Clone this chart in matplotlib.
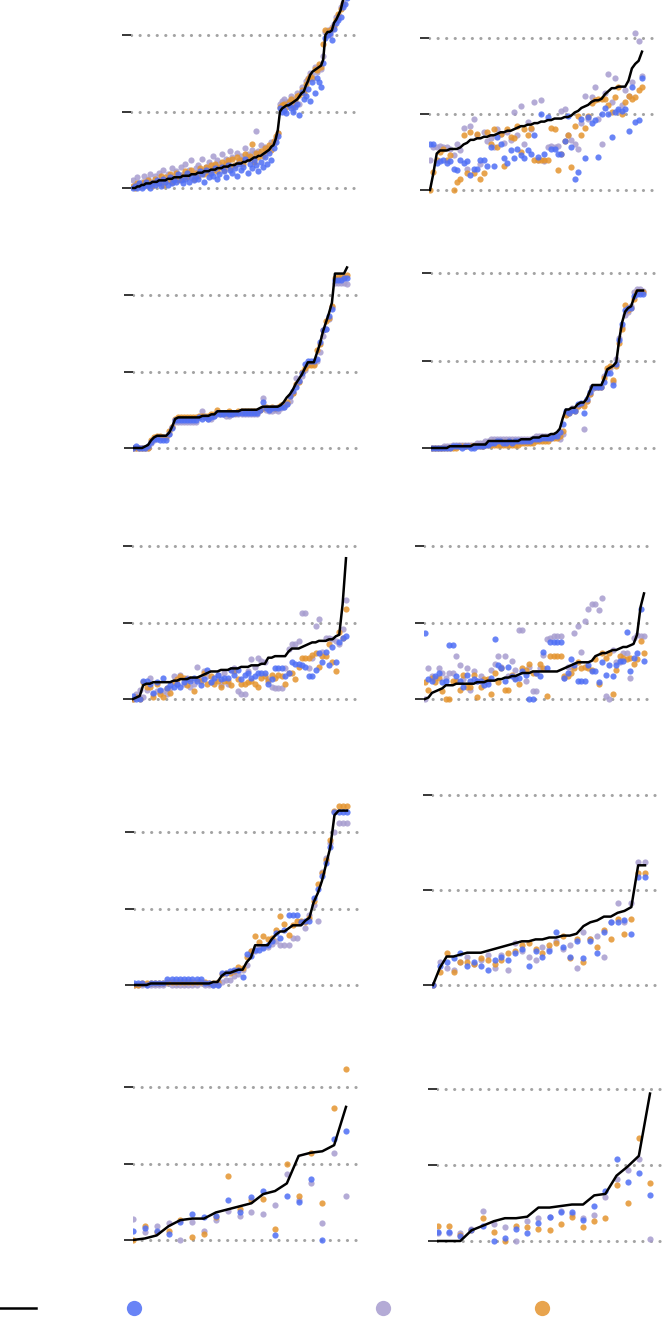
import numpy as np
import matplotlib.pyplot as plt
from matplotlib.lines import Line2D

W, H = 666, 1326

BLUE = "#4f6ff5"
LILAC = "#a79dcf"
ORANGE = "#e4942f"
GRID = "#a3a3a3"

# each panel: sorted true values (black line) + three prediction series
# units: 50 = one gridline step

# row 1, left
true_1 = [0, 0, 1, 1, 2, 2, 3, 3, 3, 4,
          4, 4, 5, 5, 5, 5, 6, 6, 6, 7,
          7, 7, 7, 8, 8, 8, 8, 9, 9, 9,
          10, 10, 10, 11, 11, 11, 12, 12, 12, 13,
          13, 13, 14, 14, 14, 15, 15, 15, 16, 16,
          16, 17, 17, 18, 18, 19, 20, 20, 21, 21,
          22, 23, 24, 25, 27, 28, 32, 38, 50, 52,
          53, 54, 54, 55, 56, 57, 58, 60, 62, 63,
          67, 70, 74, 76, 77, 78, 79, 80, 84, 100,
          102, 102, 103, 108, 110, 113, 116, 122, 126, 130]
blue_1 = [0, 1, 0, 3, 0, 1, 4, 2, 0, 3,
          2, 5, 3, 1, 6, 4, 2, 7, 3, 5,
          4, 9, 5, 3, 6, 10, 4, 7, 5, 8,
          6, 11, 9, 4, 12, 7, 10, 8, 13, 6,
          9, 14, 11, 7, 15, 12, 10, 13, 8, 16,
          12, 14, 19, 10, 16, 13, 18, 15, 11, 17,
          14, 20, 16, 23, 18, 26, 30, 34, 52, 50,
          51, 49, 54, 52, 50, 53, 55, 48, 63, 58,
          60, 65, 57, 69, 62, 72, 69, 66, 82, 98,
          100, 101, 97, 104, 108, 110, 112, 118, 120, 124]
lilac_1 = [5, 2, 7, 3, 4, 8, 2, 6, 9, 4,
           8, 3, 10, 6, 12, 5, 9, 7, 13, 8,
           11, 6, 14, 9, 16, 8, 12, 18, 10, 13,
           15, 12, 19, 11, 14, 17, 13, 21, 15, 18,
           16, 22, 14, 19, 17, 24, 20, 15, 23, 18,
           21, 19, 26, 22, 20, 25, 23, 37, 24, 28,
           22, 27, 25, 26, 30, 29, 33, 36, 55, 57,
           58, 56, 57, 60, 54, 58, 62, 55, 66, 64,
           70, 72, 75, 74, 79, 76, 80, 78, 86, 102,
           103, 100, 105, 107, 112, 111, 118, 121, 127, 131]
orange_1 = [1, 0, 3, 2, 1, 4, 2, 5, 3, 1,
            6, 3, 4, 8, 2, 7, 5, 9, 4, 6,
            10, 5, 8, 6, 11, 7, 9, 12, 6, 10,
            8, 13, 11, 9, 14, 10, 15, 12, 16, 11,
            14, 17, 12, 16, 18, 13, 19, 15, 20, 17,
            18, 16, 22, 19, 21, 29, 17, 23, 20, 24,
            21, 26, 24, 28, 25, 31, 34, 36, 53, 54,
            55, 53, 56, 58, 53, 57, 60, 61, 64, 62,
            68, 71, 73, 72, 78, 77, 81, 79, 94, 103,
            101, 103, 104, 106, 110, 114, 117, 120, 128, 132]

# row 1, right
true_2 = [0, 11, 24, 26, 26, 26, 27, 27, 27, 28,
          30, 31, 33, 33, 34, 34, 35, 35, 36, 36,
          37, 38, 38, 39, 39, 40, 41, 42, 42, 43,
          43, 44, 44, 45, 45, 46, 46, 47, 47, 47,
          48, 48, 49, 51, 52, 54, 55, 56, 58, 59,
          59, 60, 63, 65, 67, 67, 68, 68, 68, 72,
          80, 83, 85, 91]
blue_2 = [30, 30, 18, 19, 20, 18, 19, 14, 13, 20,
          18, 19, 10, 14, 14, 20, 20, 16, 28, 16,
          35, 30, 21, 18, 26, 21, 27, 23, 21, 26,
          24, 36, 22, 50, 24, 48, 27, 27, 24, 24,
          32, 49, 28, 7, 12, 47, 21, 48, 44, 46,
          22, 50, 54, 50, 35, 51, 53, 52, 53, 39,
          68, 45, 46, 74]
lilac_2 = [20, 28, 28, 29, 28, 28, 27, 23, 30, 26,
           41, 14, 42, 47, 36, 17, 38, 32, 34, 28,
           40, 37, 31, 38, 33, 51, 36, 55, 30, 45,
           40, 58, 20, 59, 19, 28, 29, 28, 29, 52,
           53, 36, 33, 30, 27, 44, 62, 47, 61, 68,
           47, 30, 64, 76, 58, 74, 52, 56, 66, 62,
           71, 103, 98, 75]
orange_2 = [0, 12, 20, 25, 27, 20, 23, 0, 5, 7,
            36, 11, 38, 11, 37, 7, 11, 38, 30, 40,
            28, 37, 16, 40, 35, 34, 42, 25, 40, 36,
            41, 20, 20, 20, 20, 20, 41, 40, 13, 24,
            32, 36, 15, 42, 49, 36, 41, 49, 57, 59,
            60, 60, 60, 56, 51, 61, 68, 50, 58, 62,
            60, 61, 66, 68]

# row 2, left
true_3 = [0, 0, 0, 0, 1, 2, 5, 7, 8, 8,
          8, 8, 10, 14, 19, 20, 20, 20, 20, 20,
          20, 20, 20, 21, 21, 21, 22, 22, 24, 24,
          24, 24, 24, 24, 24, 24, 25, 25, 25, 25,
          25, 25, 26, 27, 27, 27, 27, 27, 27, 28,
          30, 33, 35, 38, 42, 45, 48, 52, 56, 56,
          56, 62, 68, 76, 82, 88, 95, 114, 114, 114,
          114, 118]
blue_3 = [0, 1, 0, 0, 0, 1, 4, 6, 6, 5,
          5, 5, 9, 13, 18, 18, 18, 18, 18, 18,
          18, 18, 20, 19, 20, 19, 20, 21, 23, 22,
          22, 23, 22, 22, 23, 23, 23, 23, 23, 23,
          23, 23, 25, 30, 26, 25, 26, 26, 26, 27,
          27, 29, 34, 37, 40, 44, 49, 55, 57, 57,
          57, 58, 69, 77, 78, 86, 91, 110, 110, 110,
          111, 111]
lilac_3 = [0, 0, 0, 0, 0, 0, 3, 5, 7, 7,
           7, 7, 9, 14, 17, 17, 17, 17, 17, 17,
           17, 17, 20, 24, 20, 19, 19, 21, 22, 22,
           22, 21, 21, 22, 22, 22, 22, 22, 22, 22,
           22, 22, 25, 33, 25, 24, 24, 25, 24, 26,
           27, 29, 31, 36, 46, 44, 47, 51, 55, 55,
           55, 57, 63, 73, 78, 84, 92, 108, 108, 108,
           108, 107]
orange_3 = [0, 0, 0, 0, 0, 0, 5, 7, 8, 8,
            7, 7, 11, 14, 19, 20, 20, 20, 20, 20,
            20, 20, 21, 21, 21, 21, 22, 22, 25, 23,
            23, 23, 24, 23, 23, 24, 24, 24, 24, 24,
            24, 24, 25, 26, 27, 26, 27, 26, 27, 28,
            28, 30, 34, 36, 42, 43, 50, 52, 54, 54,
            54, 64, 68, 77, 83, 85, 93, 111, 112, 112,
            112, 113]

# row 2, right
true_4 = [0, 0, 0, 0, 0, 0, 1, 1, 1, 1,
          1, 1, 1, 1, 2, 2, 2, 2, 2, 4,
          4, 4, 4, 4, 4, 4, 4, 4, 4, 4,
          5, 5, 5, 5, 6, 6, 6, 7, 7, 7,
          8, 8, 9, 11, 17, 22, 22, 23, 23, 25,
          26, 26, 28, 32, 36, 36, 36, 36, 40, 45,
          46, 47, 49, 62, 72, 78, 80, 81, 86, 90,
          90, 90]
blue_4 = [0, 0, 0, 0, 0, 0, 0, 1, 1, 1, 0, 1, 1, 0, 0, 1, 1, 1, 2, 2,
          3, 3, 4, 4, 3, 3, 4, 3, 4, 4, 4, 4, 4, 4, 5, 5, 5, 6, 6, 6,
          6, 7, 7, 9, 14, 21, 20, 22, 21, 25, 26, 20, 28, 32, 35, 35, 35, 35, 38, 43,
          43, 36, 48, 62, 71, 79, 80, 80, 87, 88, 88, 88]
lilac_4 = [0, 0, 0, 0, 1, 1, 1, 2, 2, 2, 2, 2, 2, 2, 2, 3, 3, 3, 4, 4,
           5, 5, 5, 5, 5, 5, 5, 5, 5, 5, 5, 5, 5, 5, 6, 7, 7, 7, 7, 7,
           7, 7, 7, 5, 8, 20, 21, 23, 22, 24, 25, 11, 27, 31, 34, 35, 35, 35, 41, 44,
           46, 38, 51, 63, 69, 76, 78, 81, 89, 91, 91, 90]
orange_4 = [0, 0, 0, 0, 0, 0, 0, 0, 0, 1, 1, 1, 1, 1, 1, 1, 1, 1, 2, 2,
            2, 2, 2, 2, 2, 2, 2, 2, 2, 2, 3, 3, 3, 3, 3, 4, 4, 4, 4, 4,
            6, 6, 6, 7, 10, 19, 20, 22, 21, 24, 25, 24, 27, 31, 35, 35, 35, 35, 40, 46,
            47, 39, 47, 60, 68, 82, 79, 80, 85, 89, 89, 89]

# row 3, left
true_5 = [0, 1, 2, 9, 10, 10, 11, 11, 11, 11,
          11, 11, 12, 12, 13, 13, 13, 14, 14, 14,
          15, 16, 17, 18, 18, 18, 19, 19, 19, 20,
          20, 20, 21, 21, 21, 22, 22, 22, 23, 23,
          27, 27, 28, 28, 28, 28, 31, 33, 33, 33,
          34, 35, 36, 37, 37, 38, 38, 38, 39, 39,
          41, 42, 62, 92]
blue_5 = [2, 0, 0, 12, 12, 10, 4, 11, 6, 14,
          7, 9, 8, 10, 8, 11, 13, 12, 14, 12,
          9, 13, 19, 11, 14, 16, 13, 14, 14, 19,
          16, 19, 13, 16, 17, 14, 15, 17, 17, 17,
          10, 13, 20, 20, 20, 15, 17, 24, 23, 23,
          22, 21, 15, 15, 19, 30, 24, 31, 22, 34,
          24, 37, 40, 41]
lilac_5 = [0, 3, 6, 1, 6, 14, 3, 5, 5, 5,
           3, 7, 15, 10, 16, 10, 14, 8, 10, 21,
           14, 18, 15, 11, 12, 16, 9, 17, 10, 19,
           20, 5, 3, 3, 18, 26, 21, 27, 25, 24,
           13, 8, 7, 7, 7, 20, 33, 36, 36, 38,
           56, 56, 20, 27, 48, 52, 31, 40, 40, 39,
           38, 36, 46, 65]
orange_5 = [0, 1, 0, 11, 8, 8, 1, 10, 3, 1,
            7, 4, 11, 13, 15, 14, 9, 13, 5, 13,
            12, 17, 10, 15, 10, 12, 8, 12, 12, 9,
            18, 13, 10, 10, 11, 12, 10, 8, 14, 15,
            12, 16, 14, 16, 15, 10, 17, 17, 13, 21,
            27, 27, 27, 29, 30, 21, 28, 28, 36, 24,
            18, 44, 40, 59]

# row 3, right
true_6 = [0, 1, 4, 5, 6, 7, 9, 9, 9, 10,
          10, 10, 10, 10, 10, 11, 11, 11, 12, 12,
          12, 13, 13, 14, 14, 15, 15, 16, 17, 17,
          17, 18, 18, 18, 18, 18, 18, 18, 18, 19,
          20, 21, 22, 23, 24, 24, 24, 24, 25, 28,
          29, 30, 30, 31, 32, 32, 33, 34, 34, 35,
          36, 42, 60, 69]
blue_6 = [43, 13, 12, 15, 17, 11, 12, 35, 35, 15,
          12, 8, 16, 12, 13, 12, 12, 9, 10, 14,
          39, 22, 20, 12, 21, 15, 13, 14, 18, 16,
          0, 0, 17, 15, 31, 20, 37, 37, 37, 37,
          14, 17, 26, 22, 12, 12, 12, 22, 18, 18,
          11, 24, 16, 22, 15, 22, 25, 25, 44, 18,
          27, 30, 59, 25]
lilac_6 = [0, 20, 15, 14, 20, 17, 14, 17, 17, 28,
           22, 13, 20, 6, 18, 12, 15, 12, 12, 19,
           23, 28, 21, 28, 15, 25, 19, 45, 45, 12,
           21, 5, 5, 20, 29, 39, 40, 41, 41, 41,
           14, 21, 21, 43, 48, 31, 51, 59, 62, 62,
           58, 66, 2, 0, 32, 24, 24, 30, 30, 14,
           40, 42, 41, 41]
orange_6 = [11, 6, 14, 11, 14, 5, 0, 0, 12, 12,
            6, 16, 8, 8, 16, 1, 8, 13, 13, 3,
            17, 11, 20, 6, 6, 16, 14, 10, 20, 19,
            23, 17, 17, 23, 20, 2, 28, 28, 28, 28,
            15, 15, 17, 20, 24, 20, 21, 20, 19, 26,
            10, 30, 27, 30, 3, 19, 28, 27, 26, 27,
            23, 26, 38, 30]

# row 4, left
true_7 = [0, 0, 0, 0, 1, 1, 1, 1, 1, 1,
          1, 1, 1, 1, 1, 1, 1, 1, 1, 2,
          2, 6, 8, 8, 9, 10, 10, 15, 18, 26,
          26, 26, 26, 30, 33, 35, 35, 37, 39, 39,
          39, 42, 44, 54, 60, 68, 79, 90, 111, 114,
          114, 114]
blue_7 = [1, 1, 1, 0, 1, 1, 1, 1, 4, 4,
          4, 4, 4, 4, 4, 4, 4, 1, 1, 0,
          0, 8, 8, 9, 10, 10, 5, 20, 19, 23,
          23, 24, 26, 29, 34, 31, 36, 46, 46, 46,
          41, 42, 42, 57, 63, 71, 80, 90, 113, 113,
          113, 113]
lilac_7 = [0, 0, 0, 0, 0, 0, 0, 0, 1, 0,
           0, 0, 0, 0, 0, 0, 1, 0, 0, 0,
           0, 2, 3, 3, 6, 7, 10, 13, 22, 22,
           25, 25, 25, 27, 29, 26, 26, 26, 31, 31,
           41, 37, 46, 52, 42, 74, 83, 93, 100, 106,
           106, 106]
orange_7 = [0, 0, 1, 1, 1, 1, 1, 1, 2, 2,
            2, 2, 2, 2, 2, 2, 2, 2, 1, 1,
            2, 7, 8, 8, 9, 12, 11, 18, 22, 32,
            28, 32, 30, 31, 36, 45, 40, 33, 39, 42,
            42, 41, 44, 55, 66, 73, 82, 95, 114, 117,
            117, 117]

# row 4, right
true_8 = [0, 9, 15, 15, 16, 17, 17, 17, 18, 19,
          20, 21, 22, 23, 23, 24, 24, 25, 25, 26,
          26, 27, 31, 33, 34, 36, 36, 38, 39, 41,
          63, 63]
blue_8 = [0, 10, 12, 14, 17, 10, 12, 10, 8, 13,
          15, 13, 17, 19, 10, 18, 15, 18, 28, 20,
          15, 23, 14, 23, 17, 28, 33, 33, 34, 27,
          57, 57]
lilac_8 = [0, 12, 9, 8, 12, 15, 11, 13, 16, 9,
           16, 8, 22, 18, 15, 13, 20, 19, 23, 19,
           21, 9, 28, 24, 26, 15, 33, 43, 33, 43,
           65, 65]
orange_8 = [0, 7, 17, 7, 12, 12, 11, 14, 13, 11,
            13, 17, 18, 21, 22, 19, 17, 21, 22, 26,
            14, 24, 12, 24, 20, 29, 24, 35, 27, 35,
            59, 59]

# row 5, left
true_9 = [0, 1, 3, 9, 13, 14, 14, 18, 20, 22, 24, 30, 32, 37, 55, 57, 58, 62, 87]
blue_9 = [6, 8, 6, 4, 12, 17, 15, 16, 26, 18, 28, 32, 3, 29, 25, 40, 0, 66, 71]
lilac_9 = [14, 5, 9, 11, 0, 12, 6, 13, 19, 16, 18, 17, 23, 43, 26, 37, 11, 57, 29]
orange_9 = [0, 9, 5, 6, 13, 2, 4, 15, 42, 20, 26, 27, 7, 50, 29, 57, 24, 86, 112]

# row 5, right
true_10 = [0, 0, 0, 7, 10, 13, 15, 15, 16, 22, 22, 23, 24, 24, 30, 31, 43, 49, 56, 97]
blue_10 = [6, 6, 3, 7, 10, 0, 2, 8, 5, 12, 16, 19, 19, 14, 23, 33, 54, 39, 45, 30]
lilac_10 = [5, 5, 5, 8, 20, 11, 9, 0, 13, 15, 16, 20, 18, 15, 17, 29, 41, 47, 54, 1]
orange_10 = [10, 10, 4, 7, 15, 6, 0, 10, 9, 8, 7, 11, 16, 9, 13, 15, 37, 25, 68, 38]

panels = [
    (true_1, blue_1, lilac_1, orange_1),
    (true_2, blue_2, lilac_2, orange_2),
    (true_3, blue_3, lilac_3, orange_3),
    (true_4, blue_4, lilac_4, orange_4),
    (true_5, blue_5, lilac_5, orange_5),
    (true_6, blue_6, lilac_6, orange_6),
    (true_7, blue_7, lilac_7, orange_7),
    (true_8, blue_8, lilac_8, orange_8),
    (true_9, blue_9, lilac_9, orange_9),
    (true_10, blue_10, lilac_10, orange_10),
]

# pixel layout: axes left, right, top, bottom, y of zero line, px per unit, first/last point x
layout = [
    (131, 361, 0, 196, 188, 1.53, 133, 347),
    (429, 658, 0, 196, 190, 1.52, 430, 642),
    (133, 359, 262, 456, 448, 1.53, 133, 347),
    (431, 658, 262, 456, 448, 1.75, 432, 643),
    (132, 362, 536, 707, 699, 1.53, 133, 346),
    (424, 654, 536, 707, 699, 1.53, 425, 644),
    (134, 359, 790, 993, 985, 1.53, 134, 347),
    (432, 658, 790, 993, 985, 1.90, 433, 645),
    (133, 358, 1062, 1249, 1240, 1.53, 133, 346),
    (437, 665, 1062, 1249, 1241, 1.52, 438, 650),
]

fig = plt.figure(figsize=(W / 100, H / 100), dpi=100)

for (yt, yb, yl, yo), (left, right, top, bottom, zero, ppu, x0, x1) in zip(panels, layout):
    ax = fig.add_axes([left / W, 1 - bottom / H, (right - left) / W, (bottom - top) / H])
    n = len(yt)
    x = np.arange(n)
    step = (x1 - x0) / (n - 1)
    ax.set_xlim(-(x0 - left) / step, (n - 1) + (right - x1) / step)
    ax.set_ylim((zero - bottom) / ppu, (zero - top) / ppu)

    ax.scatter(x, yl, s=20, color=LILAC, alpha=0.85, linewidths=0, zorder=2)
    ax.scatter(x, yo, s=20, color=ORANGE, alpha=0.85, linewidths=0, zorder=2)
    ax.scatter(x, yb, s=20, color=BLUE, alpha=0.85, linewidths=0, zorder=2)
    ax.plot(x, yt, color="black", linewidth=1.8, zorder=3)

    ax.set_yticks([0, 50, 100])
    ax.set_xticks([])
    ax.tick_params(axis="y", length=6.5, width=1.1, color="black", labelleft=False)
    ax.grid(axis="y", color=GRID, linewidth=2.2, linestyle=(0, (0.05, 2.75)),
            dash_capstyle="round")
    ax.set_axisbelow(True)
    for s in ax.spines.values():
        s.set_visible(False)

handles = [
    Line2D([0], [0], color="black", linewidth=1.8),
    Line2D([0], [0], marker="o", linestyle="", markersize=11, color=BLUE, alpha=0.85, markeredgewidth=0),
    Line2D([0], [0], marker="o", linestyle="", markersize=11, color=LILAC, alpha=0.85, markeredgewidth=0),
    Line2D([0], [0], marker="o", linestyle="", markersize=11, color=ORANGE, alpha=0.85, markeredgewidth=0),
]
legend_x = [18, 134, 383, 542]
for h, lx in zip(handles, legend_x):
    hl = 2.6 if lx == 18 else 1.0
    fig.legend([h], [""], loc="center", bbox_to_anchor=(lx / W, 1 - 1309 / H),
               frameon=False, handlelength=hl, handletextpad=0, borderpad=0,
               borderaxespad=0)

fig.savefig("out.png", dpi=100)
